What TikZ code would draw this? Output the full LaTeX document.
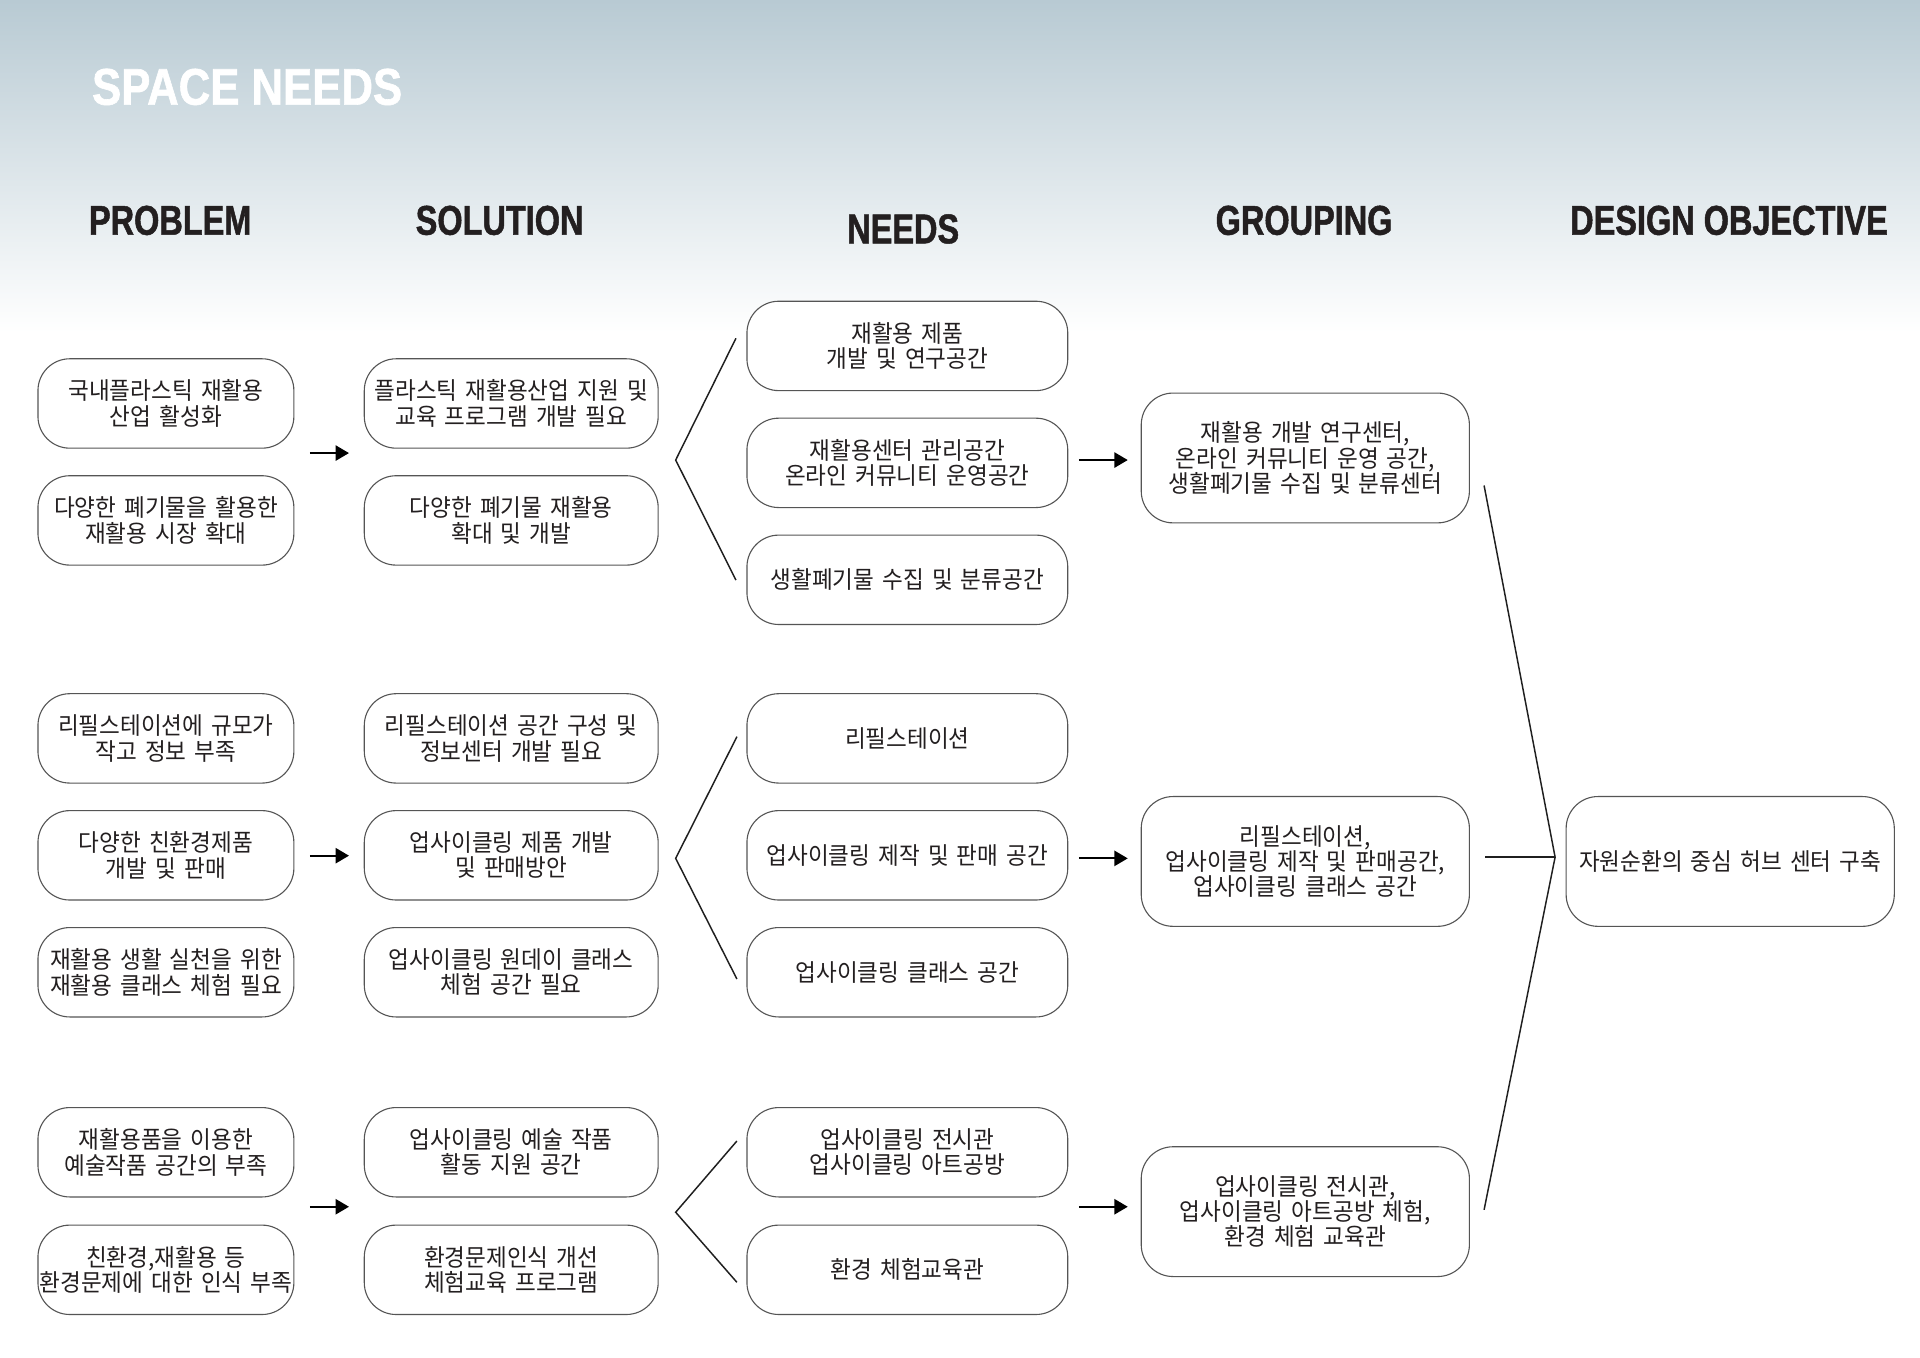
\documentclass[tikz,border=0pt]{standalone}
\usepackage{fontspec}
\usetikzlibrary{arrows.meta}
\newfontfamily\krfont[FakeStretch=0.94,WordSpace=1.6]{Noto Sans CJK KR}
\newfontfamily\hdfont[FakeStretch=0.78,FakeBold=1.2]{Liberation Sans}
\newfontfamily\ttlfont[FakeStretch=0.85,FakeBold=1.2]{Liberation Sans}
\definecolor{topblue}{HTML}{B8CAD3}
\definecolor{ink}{HTML}{231F20}
\definecolor{boxline}{HTML}{555555}
\begin{document}
\begin{tikzpicture}[x=1pt,y=-1pt,
  box/.style={draw=boxline, line width=0.9pt, fill=white, rounded corners=26pt,
    align=center, inner sep=0pt, text=ink, font={\krfont\fontsize{19.6}{20.7}\selectfont}},
  cA/.style={box, minimum width=209pt, minimum height=73pt},
  cB/.style={box, minimum width=240pt, minimum height=73pt},
  cC/.style={box, minimum width=262pt, minimum height=73pt},
  cD/.style={box, minimum width=268pt, minimum height=106pt},
  hdr/.style={font={\hdfont\bfseries\fontsize{34}{34}\selectfont}, text=ink, inner sep=0pt},
  conn/.style={line width=1.2pt, draw=black!88},
  arr/.style={line width=1.6pt, draw=black, -{Triangle[length=11pt,width=12.5pt]}}
]
\useasboundingbox (0,0) rectangle (1568,1109);
\fill[white] (0,0) rectangle (1568,1109);
\shade[top color=topblue, bottom color=white] (0,0) rectangle (1568,272);

% title and headers
\node[font={\ttlfont\bfseries\fontsize{42}{42}\selectfont}, text=white, inner sep=0pt, anchor=west] (title) at (75,71) {SPACE NEEDS};
\node[hdr] (hProblem) at (139,180) {PROBLEM};
\node[hdr] (hSolution) at (408,180) {SOLUTION};
\node[hdr] (hNeeds) at (737.6,187) {NEEDS};
\node[hdr] (hGrouping) at (1065,180) {GROUPING};
\node[hdr] (hObjective) at (1412,180) {DESIGN OBJECTIVE};

% PROBLEM column
\node[cA] (pA1) at (135.5,329.5) {국내플라스틱 재활용\\산업 활성화};
\node[cA] (pA2) at (135.5,425) {다양한 폐기물을 활용한\\재활용 시장 확대};
\node[cA] (pB1) at (135.5,603) {리필스테이션에 규모가\\작고 정보 부족};
\node[cA] (pB2) at (135.5,698.5) {다양한 친환경제품\\개발 및 판매};
\node[cA] (pB3) at (135.5,794) {재활용 생활 실천을 위한\\재활용 클래스 체험 필요};
\node[cA] (pC1) at (135.5,941) {재활용품을 이용한\\예술작품 공간의 부족};
\node[cA] (pC2) at (135.5,1037) {친환경,재활용 등\\환경문제에 대한 인식 부족};

% SOLUTION column
\node[cB] (sA1) at (417.5,329.5) {플라스틱 재활용산업 지원 및\\교육 프로그램 개발 필요};
\node[cB] (sA2) at (417.5,425) {다양한 폐기물 재활용\\확대 및 개발};
\node[cB] (sB1) at (417.5,603) {리필스테이션 공간 구성 및\\정보센터 개발 필요};
\node[cB] (sB2) at (417.5,698.5) {업사이클링 제품 개발\\및 판매방안};
\node[cB] (sB3) at (417.5,794) {업사이클링 원데이 클래스\\체험 공간 필요};
\node[cB] (sC1) at (417.5,941) {업사이클링 예술 작품\\활동 지원 공간};
\node[cB] (sC2) at (417.5,1037) {환경문제인식 개선\\체험교육 프로그램};

% NEEDS column
\node[cC] (nA1) at (741,282.5) {재활용 제품\\개발 및 연구공간};
\node[cC] (nA2) at (741,378) {재활용센터 관리공간\\온라인 커뮤니티 운영공간};
\node[cC] (nA3) at (741,473.5) {생활폐기물 수집 및 분류공간};
\node[cC] (nB1) at (741,603) {리필스테이션};
\node[cC] (nB2) at (741,698.5) {업사이클링 제작 및 판매 공간};
\node[cC] (nB3) at (741,794) {업사이클링 클래스 공간};
\node[cC] (nC1) at (741,941) {업사이클링 전시관\\업사이클링 아트공방};
\node[cC] (nC2) at (741,1037) {환경 체험교육관};

% GROUPING column
\node[cD] (gA) at (1066,374) {재활용 개발 연구센터,\\온라인 커뮤니티 운영 공간,\\생활폐기물 수집 및 분류센터};
\node[cD] (gB) at (1066,703.5) {리필스테이션,\\업사이클링 제작 및 판매공간,\\업사이클링 클래스 공간};
\node[cD] (gC) at (1066,989.5) {업사이클링 전시관,\\업사이클링 아트공방 체험,\\환경 체험 교육관};

% DESIGN OBJECTIVE
\node[cD] (obj) at (1413,703.5) {자원순환의 중심 허브 센터 구축};

% arrows PROBLEM -> SOLUTION
\coordinate (pa1) at (253,370);  \coordinate (pa2) at (285,370);
\coordinate (pb1) at (253,698.8);\coordinate (pb2) at (285,698.8);
\coordinate (pc1) at (253,985.5);\coordinate (pc2) at (285,985.5);
\draw[arr] (pa1) -- (pa2);
\draw[arr] (pb1) -- (pb2);
\draw[arr] (pc1) -- (pc2);

% brackets SOLUTION -> NEEDS
\coordinate (va) at (551.8,375.7);
\coordinate (vaT) at (601,276.3); \coordinate (vaB) at (601,473.7);
\coordinate (vb) at (551.8,701);
\coordinate (vbT) at (601.8,601.6); \coordinate (vbB) at (601.8,799.5);
\coordinate (vc) at (551.8,990);
\coordinate (vcT) at (601.8,931.8); \coordinate (vcB) at (601.8,1047.2);
\draw[conn] (vaT) -- (va) -- (vaB);
\draw[conn] (vbT) -- (vb) -- (vbB);
\draw[conn] (vcT) -- (vc) -- (vcB);

% arrows NEEDS -> GROUPING
\coordinate (na1) at (881,375.7); \coordinate (na2) at (921,375.7);
\coordinate (nb1) at (881,701);   \coordinate (nb2) at (921,701);
\coordinate (nc1) at (881,985.5); \coordinate (nc2) at (921,985.5);
\draw[arr] (na1) -- (na2);
\draw[arr] (nb1) -- (nb2);
\draw[arr] (nc1) -- (nc2);

% bracket GROUPING -> OBJECTIVE
\coordinate (ov) at (1270,700);
\coordinate (oT) at (1212,396.5);
\coordinate (oM) at (1213,700);
\coordinate (oB) at (1212,988);
\draw[conn] (oT) -- (ov) -- (oB);
\draw[conn] (oM) -- (ov);
\end{tikzpicture}
\end{document}
